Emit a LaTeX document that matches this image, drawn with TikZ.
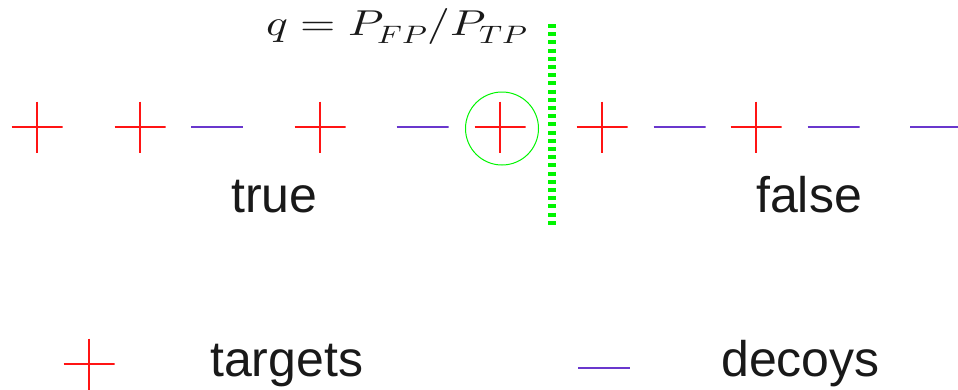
\documentclass[tikz,border=0pt]{standalone}
\usepackage{fontspec}
\setmainfont{Liberation Sans}
\usepackage{unicode-math}
\setmathfont{Latin Modern Math}
\definecolor{tgtred}{RGB}{255,20,20}
\definecolor{decblue}{RGB}{105,55,205}
\definecolor{cutgreen}{RGB}{0,245,0}
\definecolor{txt}{RGB}{25,25,25}
\begin{document}
\begin{tikzpicture}[x=1pt,y=-1pt,
  tmark/.style={minimum size=51pt, inner sep=0pt, outer sep=0pt,
    path picture={\draw[tgtred, line width=1.1pt]
      (path picture bounding box.north) -- (path picture bounding box.south)
      (path picture bounding box.west) -- (path picture bounding box.east);}},
  dmark/.style={minimum width=52pt, minimum height=4pt, inner sep=0pt, outer sep=0pt,
    path picture={\draw[decblue, line width=1.1pt]
      (path picture bounding box.west) -- (path picture bounding box.east);}},
  lbl/.style={anchor=base west, inner sep=0pt, text=txt, font=\fontsize{50}{60}\selectfont},
  cutline/.style={cutgreen, line width=8pt, dash pattern=on 4pt off 4.2pt},
  sel/.style={draw=cutgreen, circle, line width=1pt, minimum size=73pt, inner sep=0pt}
]
\useasboundingbox (0,0) rectangle (958,389);
% formula
\node[anchor=base west, inner sep=0pt, text=txt, font=\fontsize{36}{40}\selectfont] (form) at (266,35) {\scalebox{1.26}[1]{$q = P_{FP}/P_{TP}$}};
% cut line
\coordinate (cuttop) at (551.5,24);
\coordinate (cutbot) at (551.5,227);
\draw[cutline] (cuttop) -- (cutbot);
% markers
\node[tmark] (t1) at (37,127) {};
\node[tmark] (t2) at (140,127) {};
\node[dmark] (d1) at (217,127) {};
\node[tmark] (t3) at (320,127) {};
\node[dmark] (d2) at (422.5,127) {};
\node[tmark] (t4) at (500,127) {};
\node[sel] (circ) at (502,128.5) {};
\node[tmark] (t5) at (602,127) {};
\node[dmark] (d3) at (679.5,127) {};
\node[tmark] (t6) at (756,127) {};
\node[dmark] (d4) at (833.5,127) {};
\node[dmark] (d5) at (936,127) {};
% labels
\node[lbl] (true) at (231,212) {true};
\node[lbl] (false) at (756,212) {false};
% legend
\node[tmark] (lt) at (89,364) {};
\node[lbl] (ltxt) at (210,376) {targets};
\node[dmark] (ld) at (604,368) {};
\node[lbl] (ldtxt) at (721,376) {decoys};
\end{tikzpicture}
\end{document}
